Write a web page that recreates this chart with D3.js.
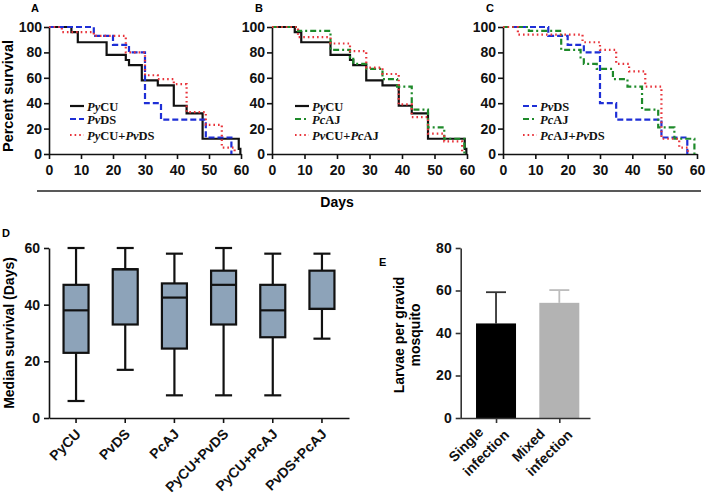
<!DOCTYPE html>
<html><head><meta charset="utf-8">
<script src="https://cdn.jsdelivr.net/npm/d3@7"></script>
<style>body{margin:0;background:#fff}svg{display:block}</style>
</head><body><svg id="c" width="708" height="498"></svg>
<script>
// ---------- DATA ----------
const dayTicks = [0,10,20,30,40,50,60];
const survivalTicks = [0,20,40,60,80,100];

const pyCU_days = [0,7,9,18,24,25,29,34,39,43,48,59.3,59.8];
const pyCU_surv = [100,96,88,78,74,70,58,54,38,32,12,4,0];
const pvDS_days = [0,14,20,25,30,35,49,57];
const pvDS_surv = [100,93,86,80,40,27,13,0];
const pcAJ_days = [0,8,18,24,25,29,34,38.5,43,48,53,59.2];
const pcAJ_surv = [100,97,82,76,71,67,59,53,35,21,12,0];
const pyCUpvDS_days = [0,4,14,24,30,34,39,43,49,54,58];
const pyCUpvDS_surv = [100,96,93,80,62,59,55,33,23,5,0];
const pyCUpcAJ_days = [0,8,18,24,29,34,39,43,48,53,58.5];
const pyCUpcAJ_surv = [100,92,87,81,68,63,39,29,16,10,0];
const pcAJpvDS_days = [0,4.6,24.6,30,35,39,44,49,54.5,57.2];
const pcAJpvDS_surv = [100,94,88,82,71,65,53,12,5,0];

const boxCategories = ["PyCU","PvDS","PcAJ","PyCU+PvDS","PyCU+PcAJ","PvDS+PcAJ"];
const boxMin    = [6,17,8,8,8,28];
const boxQ1     = [23,33,24.5,33,28.5,38.5];
const boxMedian = [38,52.5,42.5,47,38,38.5];
const boxQ3     = [47,52.5,47.5,52,47,52];
const boxMax    = [60,60,58,60,58,58];
const medianTicks = [0,20,40,60];

const larvaeCategories = ["Single infection","Mixed infection"];
const larvaeMean = [44.5,54.2];
const larvaeErrTop = [59.2,60.2];
const larvaeTicks = [0,20,40,60,80];

// ---------- SETUP ----------
const FONT = '"Liberation Sans", Arial, Helvetica, sans-serif';
const SERIF = '"Liberation Serif", "Times New Roman", serif';
const svg = d3.select("#c");

const styles = {
  "PyCU": {color:"#111", dash:null},
  "PvDS": {color:"#1e2fd6", dash:"6,3"},
  "PcAJ": {color:"#1e8a2a", dash:"6,3,2,3"},
  "mix":  {color:"#e8333a", dash:"1.6,3"}
};

function styleAxis(g, col){
  g.attr("font-family", FONT).attr("font-size", 14).attr("font-weight","bold");
  g.selectAll("path,line").attr("stroke", col||"#111").attr("stroke-width", 1.6);
  g.selectAll("text").attr("fill","#111");
}

function labelText(sel, str, x, y){
  // parts split by '*': odd indices italic
  const t = sel.append("text").attr("x",x).attr("y",y)
    .attr("font-family",SERIF).attr("font-weight","bold").attr("font-size",12.5).attr("fill","#111");
  str.split("*").forEach((p,i)=>{ if(p) t.append("tspan").attr("font-style", i%2? "italic":"normal").text(p); });
}

const yS = d3.scaleLinear().domain([0,100]).range([154,27]);
const legendRows = [106,119,135];

function survivalPanel(x0, x1, series, legX, letter, letterX){
  const x = d3.scaleLinear().domain([0,60]).range([x0,x1]);
  const gx = svg.append("g").attr("transform","translate(0,154)")
    .call(d3.axisBottom(x).tickValues(dayTicks).tickSize(5).tickPadding(6).tickSizeOuter(0));
  styleAxis(gx);
  const gy = svg.append("g").attr("transform",`translate(${x0},0)`)
    .call(d3.axisLeft(yS).tickValues(survivalTicks).tickSize(5).tickPadding(2).tickSizeOuter(0));
  styleAxis(gy);
  const line = d3.line().x(d=>x(d[0])).y(d=>yS(d[1])).curve(d3.curveStepAfter);
  series.forEach(s=>{
    const st = styles[s.style];
    svg.append("path").datum(d3.zip(s.days, s.surv)).attr("d", line)
      .attr("fill","none").attr("stroke", st.color).attr("stroke-width", 2.2)
      .attr("stroke-dasharray", st.dash);
  });
  series.forEach((s,i)=>{
    const st = styles[s.style];
    const yy = legendRows[i];
    svg.append("line").attr("x1",legX).attr("x2",legX+14).attr("y1",yy).attr("y2",yy)
      .attr("stroke",st.color).attr("stroke-width",2.2).attr("stroke-dasharray", st.dash);
    labelText(svg, s.label, legX+17, yy+4.5);
  });
  svg.append("text").attr("x",letterX).attr("y",12).attr("font-family",FONT)
    .attr("font-weight","bold").attr("font-size",11).text(letter);
}

survivalPanel(49, 241, [
  {days:pyCU_days, surv:pyCU_surv, style:"PyCU", label:"*Py*CU"},
  {days:pvDS_days, surv:pvDS_surv, style:"PvDS", label:"*Pv*DS"},
  {days:pyCUpvDS_days, surv:pyCUpvDS_surv, style:"mix", label:"*Py*CU+*Pv*DS"}
], 70, "A", 31);

survivalPanel(272, 467, [
  {days:pyCU_days, surv:pyCU_surv, style:"PyCU", label:"*Py*CU"},
  {days:pcAJ_days, surv:pcAJ_surv, style:"PcAJ", label:"*Pc*AJ"},
  {days:pyCUpcAJ_days, surv:pyCUpcAJ_surv, style:"mix", label:"*Pv*CU+*Pc*AJ"}
], 295, "B", 255);

survivalPanel(503, 697, [
  {days:pvDS_days, surv:pvDS_surv, style:"PvDS", label:"*Pv*DS"},
  {days:pcAJ_days, surv:pcAJ_surv, style:"PcAJ", label:"*Pc*AJ"},
  {days:pcAJpvDS_days, surv:pcAJpvDS_surv, style:"mix", label:"*Pc*AJ+*Pv*DS"}
], 523, "C", 486);

// shared y label and Days
svg.append("text").attr("transform","translate(13,96) rotate(-90)").attr("text-anchor","middle")
  .attr("font-family",FONT).attr("font-weight","bold").attr("font-size",14.5).text("Percent survival");
svg.append("line").attr("x1",37).attr("x2",701).attr("y1",191).attr("y2",191)
  .attr("stroke","#222").attr("stroke-width",1.5);
svg.append("text").attr("x",337).attr("y",207).attr("text-anchor","middle")
  .attr("font-family",FONT).attr("font-weight","bold").attr("font-size",14).text("Days");

// ---------- PANEL D ----------
const yM = d3.scaleLinear().domain([0,60]).range([418,248]);
const xB = d3.scaleBand().domain(boxCategories).range([49,349]).paddingInner(0).paddingOuter(0.05);
const gdx = svg.append("g").attr("transform","translate(0,418)")
  .call(d3.axisBottom(xB).tickSize(5).tickSizeOuter(0).tickFormat(""));
styleAxis(gdx);
gdx.selectAll(".tick").append("text").attr("transform","rotate(-45)")
  .attr("x",-8).attr("y",16).attr("text-anchor","end").attr("fill","#111")
  .attr("font-size",14).attr("font-weight","bold").text(d=>d);
const gdy = svg.append("g").attr("transform","translate(49,0)")
  .call(d3.axisLeft(yM).tickValues(medianTicks).tickSize(5).tickPadding(4).tickSizeOuter(0));
styleAxis(gdy);

const boxW = 25, capW = 17;
boxCategories.forEach((c,i)=>{
  const cx = xB(c) + xB.bandwidth()/2;
  const g = svg.append("g").attr("stroke","#111").attr("stroke-width",2.2);
  g.append("line").attr("x1",cx).attr("x2",cx).attr("y1",yM(boxMax[i])).attr("y2",yM(boxQ3[i]));
  g.append("line").attr("x1",cx).attr("x2",cx).attr("y1",yM(boxQ1[i])).attr("y2",yM(boxMin[i]));
  g.append("line").attr("x1",cx-capW/2).attr("x2",cx+capW/2).attr("y1",yM(boxMax[i])).attr("y2",yM(boxMax[i]));
  g.append("line").attr("x1",cx-capW/2).attr("x2",cx+capW/2).attr("y1",yM(boxMin[i])).attr("y2",yM(boxMin[i]));
  g.append("rect").attr("x",cx-boxW/2).attr("width",boxW).attr("y",yM(boxQ3[i]))
    .attr("height",yM(boxQ1[i])-yM(boxQ3[i])).attr("fill","#8da3b9");
  g.append("line").attr("x1",cx-boxW/2).attr("x2",cx+boxW/2).attr("y1",yM(boxMedian[i])).attr("y2",yM(boxMedian[i]));
});
svg.append("text").attr("transform","translate(14,333) rotate(-90)").attr("text-anchor","middle")
  .attr("font-family",FONT).attr("font-weight","bold").attr("font-size",14).text("Median survival (Days)");
svg.append("text").attr("x",2).attr("y",237).attr("font-family",FONT)
  .attr("font-weight","bold").attr("font-size",11).text("D");

// ---------- PANEL E ----------
const yL = d3.scaleLinear().domain([0,80]).range([418,248]);
const xL = d3.scalePoint().domain(larvaeCategories).range([460,590]).padding(0.527).align(0.54);
const barColors = ["#000000","#b3b3b3"];
const errColors = ["#333333","#bdbdbd"];
larvaeCategories.forEach((c,i)=>{
  const cx = xL(c);
  svg.append("line").attr("x1",cx).attr("x2",cx).attr("y1",yL(larvaeMean[i])).attr("y2",yL(larvaeErrTop[i]))
    .attr("stroke",errColors[i]).attr("stroke-width",1.8);
  svg.append("line").attr("x1",cx-10).attr("x2",cx+10).attr("y1",yL(larvaeErrTop[i])).attr("y2",yL(larvaeErrTop[i]))
    .attr("stroke",errColors[i]).attr("stroke-width",1.8);
  svg.append("rect").attr("x",cx-20).attr("width",40).attr("y",yL(larvaeMean[i]))
    .attr("height",yL(0)-yL(larvaeMean[i])).attr("fill",barColors[i]);
});
const gex = svg.append("g").attr("transform","translate(0,418)")
  .call(d3.axisBottom(xL).tickSize(5).tickSizeOuter(0).tickFormat(""));
styleAxis(gex,"#333");
gex.selectAll(".tick").each(function(d){
  const t = d3.select(this).append("text").attr("transform","rotate(-45)")
    .attr("text-anchor","start").attr("fill","#111").attr("font-size",14).attr("font-weight","bold");
  const lines = d.split(" ");
  const spans = lines.map((l,k)=>t.append("tspan").attr("y", 2 + k*20).text(l));
  const W = d3.max(spans, s=>s.node().getComputedTextLength());
  spans.forEach(s=>s.attr("x", -W-3));
});
const gey = svg.append("g").attr("transform","translate(460.7,0)")
  .call(d3.axisLeft(yL).tickValues(larvaeTicks).tickSize(5).tickPadding(4).tickSizeOuter(0));
styleAxis(gey,"#333");
const eLab = svg.append("text").attr("transform","translate(0,335) rotate(-90)").attr("text-anchor","middle")
  .attr("font-family",FONT).attr("font-weight","bold").attr("font-size",14);
eLab.append("tspan").attr("x",0).attr("y",403.5).text("Larvae per gravid");
eLab.append("tspan").attr("x",0).attr("y",420).text("mosquito");
svg.append("text").attr("x",379).attr("y",266).attr("font-family",FONT)
  .attr("font-weight","bold").attr("font-size",11).text("E");
</script></body></html>
